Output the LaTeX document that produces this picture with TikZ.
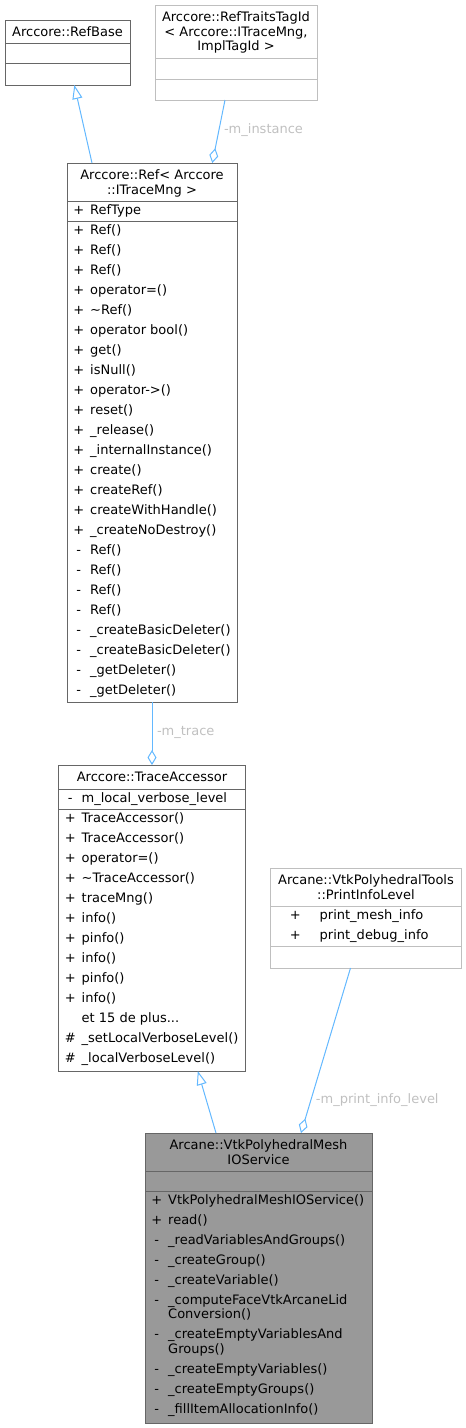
\documentclass[tikz,border=0pt]{standalone}
\usepackage{fontspec}
\setmainfont{DejaVu Sans}
\usepackage{xcolor}
\usepackage{tikz}
\usetikzlibrary{arrows.meta, positioning}
\definecolor{edgeblue}{RGB}{99,184,255}
\definecolor{boxline}{RGB}{102,102,102}
\definecolor{boxlinelight}{RGB}{191,191,191}
\definecolor{boxfocus}{RGB}{153,153,153}
\definecolor{labelgrey}{RGB}{192,192,192}
\newcommand{\umltitlefont}{\fontsize{13}{14.5}\selectfont}
\newcommand{\umlrowfont}{\fontsize{13}{20}\selectfont}
\newcommand{\umlstrut}{\rule[-7pt]{0pt}{20pt}}
\newcommand{\umlvis}[2][23pt]{\makebox[#1][c]{\umlstrut#2}}
\tikzset{
  classbox/.style  = {rectangle, draw=boxline, line width=1pt, fill=white,
                      inner sep=0pt, outer sep=0pt},
  extbox/.style    = {classbox, draw=boxlinelight},
  focusbox/.style  = {classbox, fill=boxfocus},
  boxrule/.style   = {line width=1pt, draw=boxline},
  classname/.style = {anchor=north, align=center, inner sep=0pt, font=\umltitlefont},
  members/.style   = {anchor=north west, align=left, inner sep=0pt, font=\umlrowfont},
  inherit/.style   = {-{Triangle[open, length=14pt, width=10pt]}, line width=1pt, draw=edgeblue},
  aggreg/.style    = {-{Diamond[open, length=15pt, width=9pt]}, line width=1pt, draw=edgeblue},
  rolelab/.style   = {anchor=west, inner sep=0pt, xshift=4.5pt, text=labelgrey, font=\umltitlefont},
}
\begin{document}
\begin{tikzpicture}[x=1pt, y=-1pt]
  \useasboundingbox (0,0) rectangle (466,1428);
  % class boxes
  \node[classbox, minimum width=125pt, minimum height=65pt] (refbase) at (67.5,52.5) {};
  \node[extbox, minimum width=162pt, minimum height=95pt, right=25pt of refbase] (traits) {};
  \node[classbox, minimum width=170pt, minimum height=539pt] (ref) at (152,432.5) {};
  \node[classbox, minimum width=187pt, minimum height=306pt, below=63pt of ref] (trace) {};
  \node[extbox, minimum width=191pt, minimum height=100pt, right=25pt of trace] (level) {};
  \node[focusbox, minimum width=227pt, minimum height=290pt] (vtk) at (258.5,1278) {};
  % compartments
  \foreach \bx/\off in {refbase/23, refbase/43, ref/38, ref/58, trace/24, trace/44, vtk/38, vtk/58}
    \draw[boxrule] ([yshift=-\off pt]\bx.north west) -- ([yshift=-\off pt]\bx.north east);
  \foreach \bx/\off in {traits/53, traits/74, level/38, level/78}
    \draw[boxrule, draw=boxlinelight] ([yshift=-\off pt]\bx.north west) -- ([yshift=-\off pt]\bx.north east);
  % names
  \node[classname] (refbasename) at ([yshift=-6.5pt]refbase.north) {Arccore::RefBase};
  \node[classname] (traitsname) at ([yshift=-6.5pt]traits.north)
    {Arccore::RefTraitsTagId\\\textless{} Arccore::ITraceMng,\\ImplTagId \textgreater};
  \node[classname] (refname) at ([yshift=-6.5pt]ref.north)
    {Arccore::Ref\textless{} Arccore\\::ITraceMng \textgreater};
  \node[classname] (tracename) at ([yshift=-6.5pt]trace.north) {Arccore::TraceAccessor};
  \node[classname] (levelname) at ([yshift=-6.5pt]level.north)
    {Arcane::VtkPolyhedralTools\\::PrintInfoLevel};
  \node[classname] (vtkname) at ([yshift=-6.5pt]vtk.north) {Arcane::VtkPolyhedralMesh\\IOService};
  % members
  \node[members] (refattr) at ([yshift=-38pt]ref.north west) {\umlvis{+}RefType};
  \node[members] (refops) at ([yshift=-58pt]ref.north west) {%
    \umlvis{+}Ref()\\ \umlvis{+}Ref()\\ \umlvis{+}Ref()\\ \umlvis{+}operator=()\\
    \umlvis{+}\textasciitilde Ref()\\ \umlvis{+}operator bool()\\ \umlvis{+}get()\\
    \umlvis{+}isNull()\\ \umlvis{+}operator-\textgreater()\\ \umlvis{+}reset()\\
    \umlvis{+}\_release()\\ \umlvis{+}\_internalInstance()\\ \umlvis{+}create()\\
    \umlvis{+}createRef()\\ \umlvis{+}createWithHandle()\\ \umlvis{+}\_createNoDestroy()\\
    \umlvis{-}Ref()\\ \umlvis{-}Ref()\\ \umlvis{-}Ref()\\ \umlvis{-}Ref()\\
    \umlvis{-}\_createBasicDeleter()\\ \umlvis{-}\_createBasicDeleter()\\
    \umlvis{-}\_getDeleter()\\ \umlvis{-}\_getDeleter()};
  \node[members] (traceattr) at ([yshift=-24pt]trace.north west) {\umlvis{-}m\_local\_verbose\_level};
  \node[members] (traceops) at ([yshift=-44pt]trace.north west) {%
    \umlvis{+}TraceAccessor()\\ \umlvis{+}TraceAccessor()\\ \umlvis{+}operator=()\\
    \umlvis{+}\textasciitilde TraceAccessor()\\ \umlvis{+}traceMng()\\ \umlvis{+}info()\\
    \umlvis{+}pinfo()\\ \umlvis{+}info()\\ \umlvis{+}pinfo()\\ \umlvis{+}info()\\
    \umlvis{}et 15 de plus...\\ \umlvis{\#}\_setLocalVerboseLevel()\\
    \umlvis{\#}\_localVerboseLevel()};
  \node[members] (levelattr) at ([yshift=-38pt]level.north west)
    {\umlvis[49pt]{+}print\_mesh\_info\\ \umlvis[49pt]{+}print\_debug\_info};
  \node[members] (vtkops) at ([yshift=-58pt]vtk.north west) {%
    \umlvis{+}VtkPolyhedralMeshIOService()\\ \umlvis{+}read()\\
    \umlvis{-}\_readVariablesAndGroups()\\ \umlvis{-}\_createGroup()\\
    \umlvis{-}\_createVariable()\\ \umlvis{-}\_computeFaceVtkArcaneLid\\[-5.5pt]
    \umlvis{}Conversion()\\ \umlvis{-}\_createEmptyVariablesAnd\\[-5.5pt]
    \umlvis{}Groups()\\ \umlvis{-}\_createEmptyVariables()\\
    \umlvis{-}\_createEmptyGroups()\\ \umlvis{-}\_fillItemAllocationInfo()};
  % relations
  \draw[inherit] ([xshift=-60pt]ref.north) -- ([xshift=6.8pt]refbase.south);
  \draw[aggreg] ([xshift=-11pt]traits.south) -- ([xshift=60.3pt]ref.north)
    node[rolelab, pos=0.47] {-m\_instance};
  \draw[aggreg] (ref.south) -- (trace.north) node[rolelab, pos=0.49] {-m\_trace};
  \draw[inherit] ([xshift=-42.5pt]vtk.north) -- ([xshift=45.8pt]trace.south);
  \draw[aggreg] ([xshift=-15.5pt]level.south) -- ([xshift=42.5pt]vtk.north)
    node[rolelab, pos=0.8] {-m\_print\_info\_level};
\end{tikzpicture}
\end{document}
